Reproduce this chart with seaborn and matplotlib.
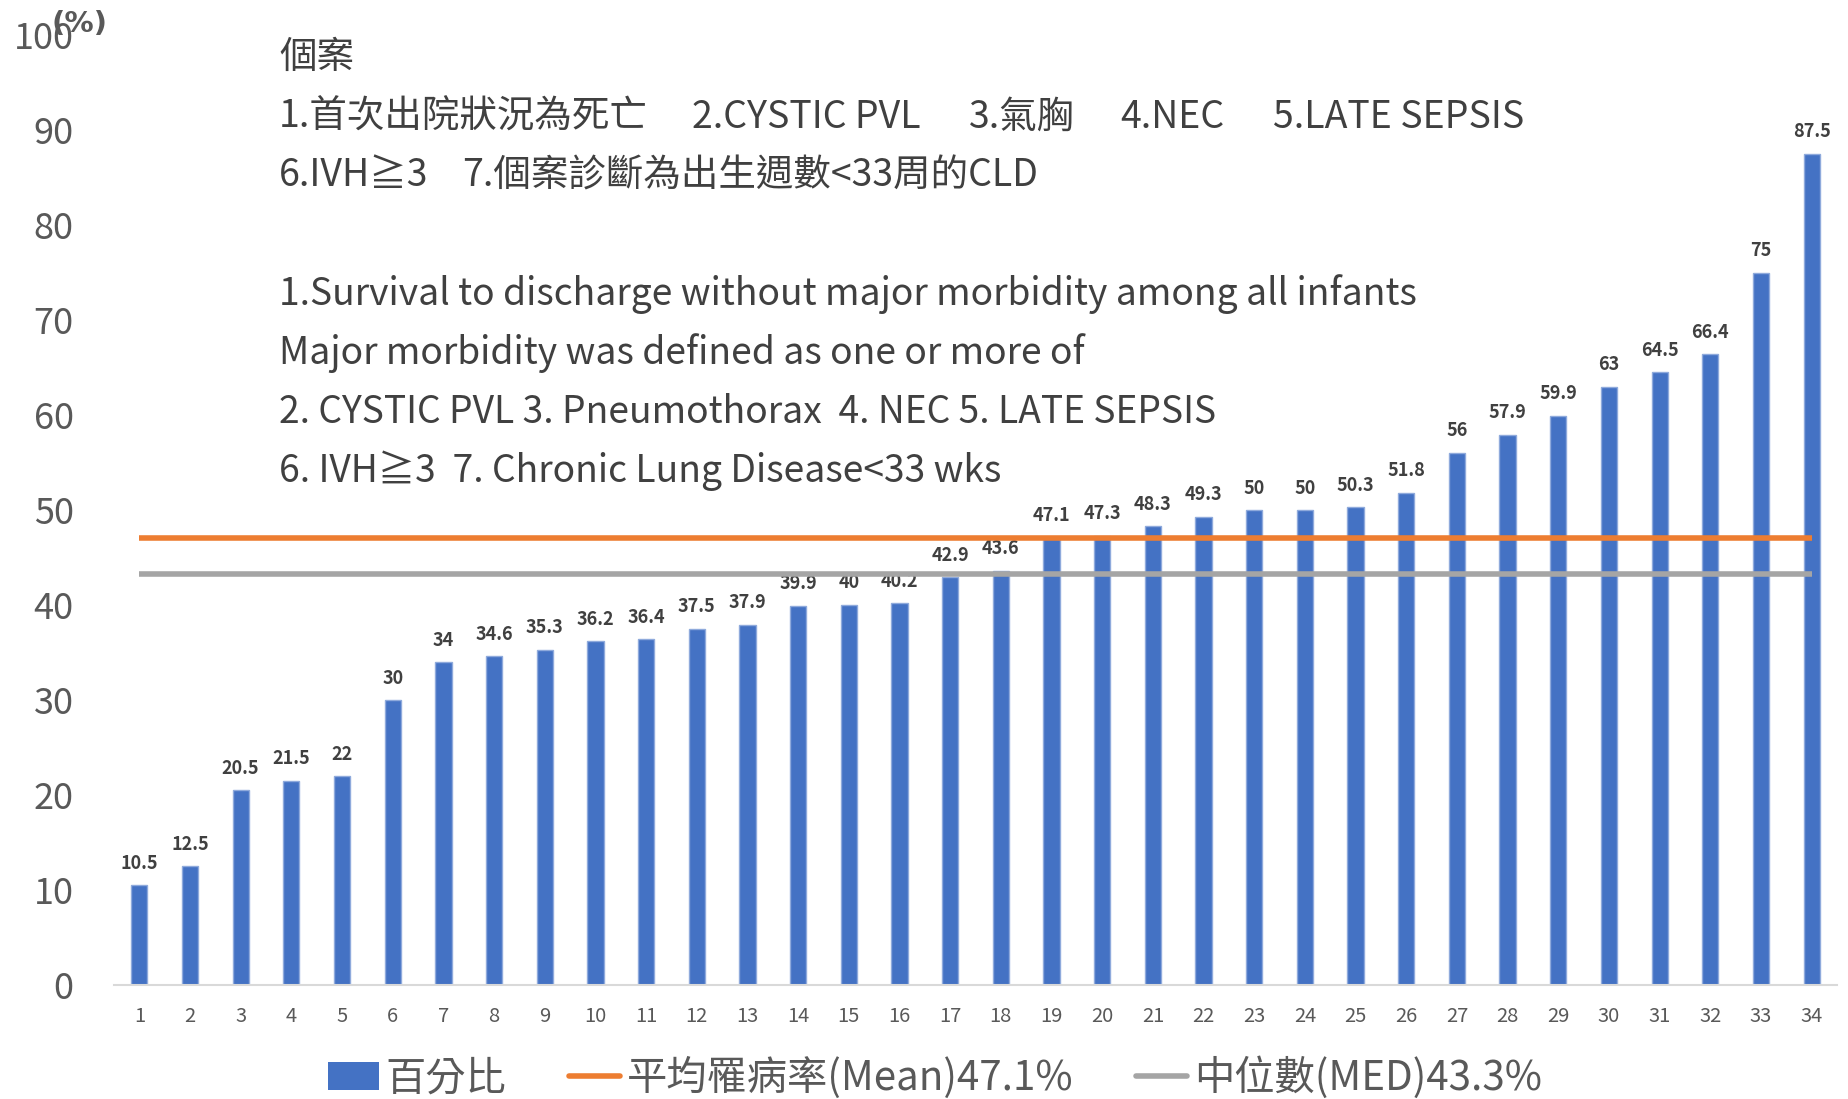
import matplotlib
matplotlib.use("Agg")
import matplotlib.pyplot as plt
from matplotlib.patches import Patch
from matplotlib.lines import Line2D
import seaborn as sns
import pandas as pd

# ---- data -------------------------------------------------------------
cases = [str(i) for i in range(1, 35)]
percent = [10.5, 12.5, 20.5, 21.5, 22, 30, 34, 34.6, 35.3, 36.2, 36.4, 37.5,
           37.9, 39.9, 40, 40.2, 42.9, 43.6, 47.1, 47.3, 48.3, 49.3, 50, 50,
           50.3, 51.8, 56, 57.9, 59.9, 63, 64.5, 66.4, 75, 87.5]
mean_rate = 47.1
median_rate = 43.3
y_ticks = list(range(0, 101, 10))

legend_labels = ["百分比", "平均罹病率(Mean)47.1%", "中位數(MED)43.3%"]

note_zh_line1 = ["1.首次出院狀況為死亡", "2.CYSTIC PVL", "3.氣胸", "4.NEC", "5.LATE SEPSIS"]
note_zh_line2 = ["6.IVH≧3", "7.個案診斷為出生週數<33周的CLD"]
note_en = ["1.Survival to discharge without major morbidity among all infants",
           "Major morbidity was defined as one or more of",
           "2. CYSTIC PVL 3. Pneumothorax  4. NEC 5. LATE SEPSIS",
           "6. IVH≧3  7. Chronic Lung Disease<33 wks"]

df = pd.DataFrame({"case": cases, "percent": percent})

# ---- style ------------------------------------------------------------
sns.set_theme(style="white")
FONTS = ["Noto Sans CJK TC", "DejaVu Sans"]
plt.rcParams["font.family"] = FONTS

BLUE = "#4472C4"
ORANGE = "#ED7D31"
GRAY = "#A5A5A5"
TEXT = "#404040"
TICK = "#595959"

W, H, DPI = 1849, 1099, 100
fig = plt.figure(figsize=(W / DPI, H / DPI), dpi=DPI)
ax = fig.add_axes([114 / W, 1 - 985 / H, (1837 - 114) / W, (985 - 35) / H])

sns.barplot(data=df, x="case", y="percent", order=cases, color=BLUE,
            saturation=1, width=0.32, edgecolor="#8FAADC", linewidth=1,
            ax=ax)

ax.bar_label(ax.containers[0], fmt="{:g}", padding=9, fontsize=13,
             fontweight="bold", color=TEXT)

# mean and median reference lines across the cases
ax.hlines(mean_rate, 0, len(cases) - 1, color=ORANGE, linewidth=4, zorder=3)
ax.hlines(median_rate, 0, len(cases) - 1, color=GRAY, linewidth=4, zorder=3)

ax.set_xlim(-0.5, len(cases) - 0.5)
ax.set_ylim(0, 100)
ax.set_yticks(y_ticks)
ax.set_xlabel("")
ax.set_ylabel("")
ax.tick_params(axis="y", length=0, pad=29, labelsize=26, labelcolor=TICK)
ax.tick_params(axis="x", length=0, pad=15, labelsize=14.5, labelcolor=TICK)
for s in ("left", "top", "right"):
    ax.spines[s].set_visible(False)
ax.spines["bottom"].set_color("#D9D9D9")
ax.spines["bottom"].set_linewidth(1.5)
ax.grid(False)

# unit label
fig.text(80 / W, 1 - 24 / H, "(%)", fontsize=21, fontweight="bold",
         family=["DejaVu Sans"], color=TICK, ha="center", va="center")

# notes
def px(x, y):
    return x / W, 1 - y / H

ZH_SIZE = 27
EN_SIZE = 26.8
fig.text(*px(279, 57), "個案", fontsize=ZH_SIZE, color=TEXT, va="center")
for xp, seg in zip([279, 692, 969, 1120, 1273], note_zh_line1):
    fig.text(*px(xp, 117), seg, fontsize=ZH_SIZE, color=TEXT, va="center")
for xp, seg in zip([279, 462], note_zh_line2):
    fig.text(*px(xp, 176), seg, fontsize=ZH_SIZE, color=TEXT, va="center")
for yp, line in zip([294, 353, 412, 471], note_en):
    fig.text(*px(279, yp), line, fontsize=EN_SIZE, color=TEXT, va="center")

# legend
handles = [Patch(facecolor=BLUE, edgecolor="none"),
           Line2D([0], [0], color=ORANGE, linewidth=4),
           Line2D([0], [0], color=GRAY, linewidth=4)]
fig.legend(handles, legend_labels, loc="center", bbox_to_anchor=(935 / W, 1 - 1078 / H),
           ncol=3, frameon=False, fontsize=29, labelcolor=TICK,
           handlelength=1.27, handletextpad=0.17, columnspacing=1.55,
           borderpad=0, borderaxespad=0)

fig.savefig("out.png", dpi=DPI)
